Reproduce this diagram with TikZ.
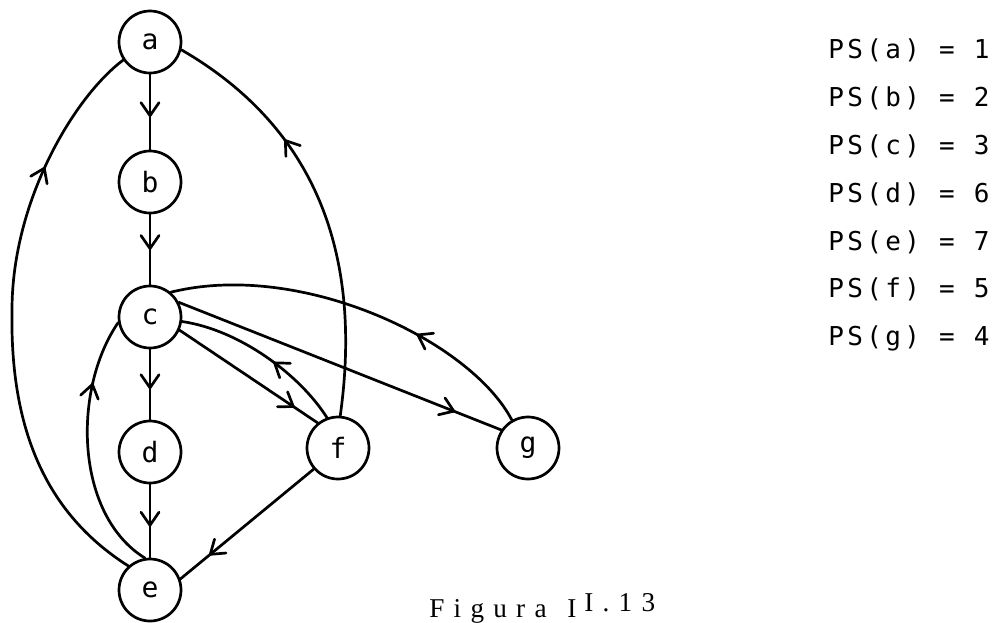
\documentclass[tikz,border=0pt]{standalone}
\usepackage{fontspec}
\setmainfont{Liberation Serif}
\newfontfamily\psfont[LetterSpace=13]{DejaVu Sans Mono}
\newfontfamily\labfont{DejaVu Sans Mono}
\newfontfamily\figfont[LetterSpace=34]{Liberation Serif}
\usetikzlibrary{arrows.meta,decorations.markings}
\begin{document}
\begin{tikzpicture}[x=0.5pt,y=-0.5pt,line width=1.35pt,line cap=round,
  vtx/.style={circle,draw,minimum size=31pt,inner sep=0pt,font=\labfont\fontsize{14}{16}\selectfont},
  pstext/.style={anchor=base west,inner sep=0pt,font=\psfont\fontsize{13}{15}\selectfont},
  figtext/.style={anchor=base west,inner sep=0pt,font=\figfont\fontsize{13.6}{16}\selectfont},
  midarrow/.style={postaction={decorate,decoration={markings,
      mark=at position #1 with {\arrow{Straight Barb[length=6.5pt,width=9pt,line cap=round]}}}}}]
\useasboundingbox (0,0) rectangle (1001,622);

% vertices
\node[vtx] (a) at (150,42) {a};
\node[vtx] (b) at (150,182) {b};
\node[vtx] (c) at (150,317) {c};
\node[vtx] (d) at (150,452) {d};
\node[vtx] (e) at (150,590) {e};
\node[vtx] (f) at (338,448) {f};
\node[vtx] (g) at (528,448) {g};

% straight vertical edges
\draw[midarrow=0.58] (a) -- (b);
\draw[midarrow=0.52] (b) -- (c);
\draw[midarrow=0.58] (c) -- (d);
\draw[midarrow=0.59] (d) -- (e);

% e -> a (outer left arc)
\draw[midarrow=0.77] (e.132) .. controls (40,510) and (10,420) .. (12,310)
      .. controls (12,200) and (75,96) .. (a.214);
% f -> a
\draw[midarrow=0.68] (f.86) .. controls (362,260) and (320,130) .. (a.346);
% e -> c
\draw[midarrow=0.75] (e.99) .. controls (75,515) and (72,390) .. (c.190);
% c -> f
\draw[midarrow=0.84] (c.-24) -- (f.129);
% f -> c
\draw[midarrow=0.44] (f.110) .. controls (300,375) and (240,330) .. (c.-8);
% c -> g
\draw[midarrow=0.86] (c.27) -- (g.146);
% g -> c
\draw[midarrow=0.34] (g.120) .. controls (470,340) and (300,260) .. (c.50);
% f -> e
\draw[midarrow=0.79] (f.221) -- (e.20);

% PS values
\node[pstext] (ps1) at (827,58)  {PS(a) = 1};
\node[pstext] (ps2) at (827,106) {PS(b) = 2};
\node[pstext] (ps3) at (827,154) {PS(c) = 3};
\node[pstext] (ps4) at (827,202) {PS(d) = 6};
\node[pstext] (ps5) at (827,250) {PS(e) = 7};
\node[pstext] (ps6) at (827,297) {PS(f) = 5};
\node[pstext] (ps7) at (827,345) {PS(g) = 4};

% caption
\node[figtext] (cap1) at (428,617) {Figura};
\node[figtext] (cap2) at (566,617) {I};
\node[figtext] (cap3) at (583,611) {I.13};
\end{tikzpicture}
\end{document}
